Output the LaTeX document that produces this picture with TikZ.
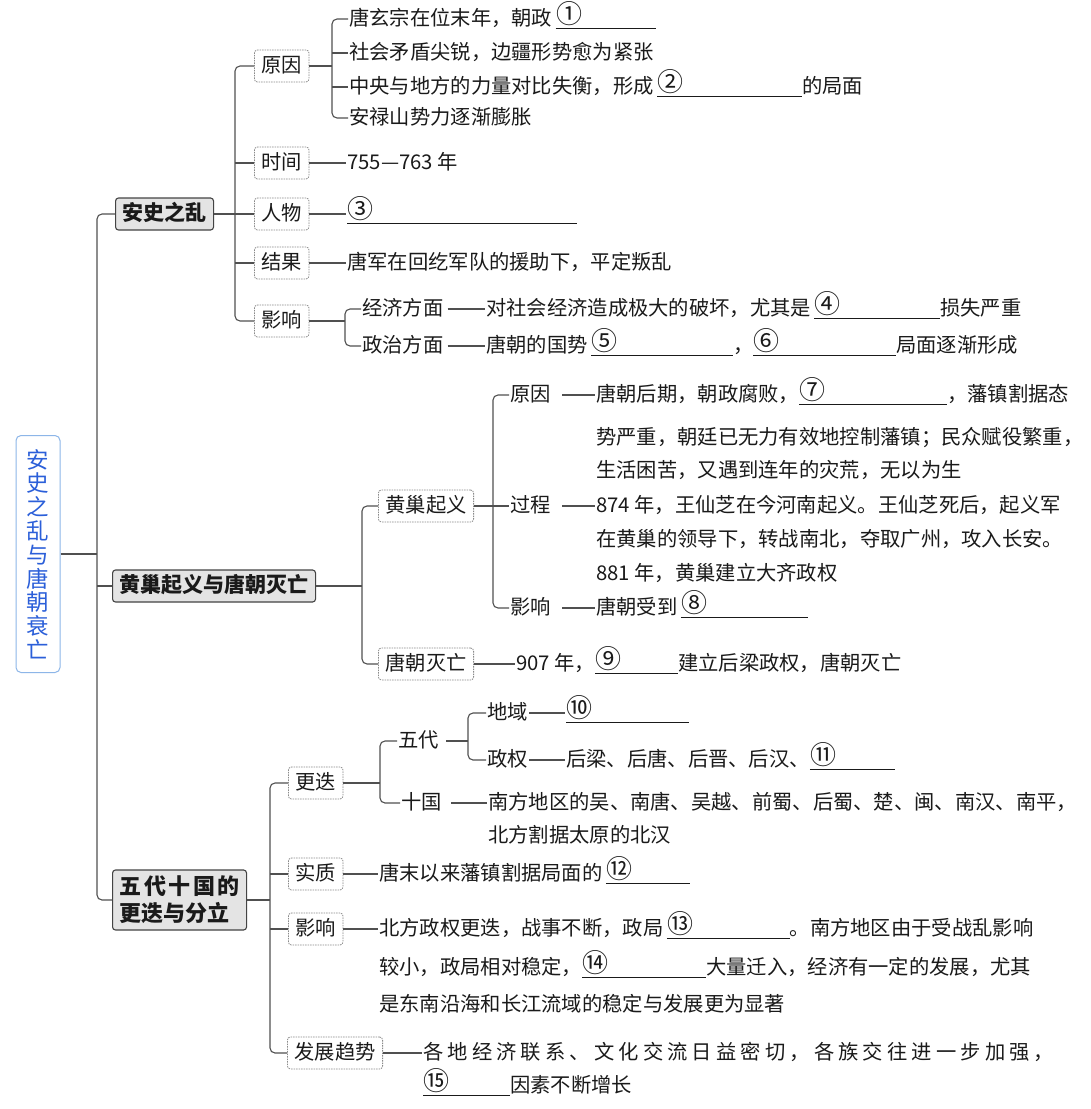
\documentclass[tikz,border=0pt]{standalone}
\usepackage{fontspec}
\setmainfont{Noto Sans CJK SC}
\usetikzlibrary{calc}

\definecolor{linec}{HTML}{505050}
\definecolor{rootblue}{HTML}{2B5FD9}
\definecolor{rootborder}{HTML}{8DB6E8}
\definecolor{lonefill}{HTML}{E4E4E4}
\definecolor{loneborder}{HTML}{444444}
\definecolor{ltwoborder}{HTML}{8A8A8A}
\definecolor{txtc}{HTML}{1A1A1A}

\newcommand\fs{\fontsize{20.3}{24}\selectfont}
\newcommand\blk[2]{\makebox[0pt][l]{\hspace{0.5pt}\raisebox{2pt}{\fontsize{26}{26}\selectfont #1}}\rule[-4pt]{#2}{0.9pt}}
\def\spreadA#1#2{#1\ifx\relax#2\else\hfill\expandafter\spreadA\expandafter#2\fi}
\newcommand\spreadto[2]{\hbox to #1{\spreadA#2\relax}}

\tikzset{
  rootbox/.style={draw=rootborder, line width=1pt, rounded corners=5pt, fill=white,
    text=rootblue, align=center, font=\fontsize{22.5}{23.8}\selectfont,
    minimum width=44pt, minimum height=237pt, inner sep=0pt},
  lone/.style={draw=loneborder, fill=lonefill, line width=1.1pt, rounded corners=3pt,
    font=\fontsize{21}{25}\selectfont\bfseries, inner xsep=7pt, inner ysep=5.5pt,
    text height=17pt, text depth=4pt, anchor=west, text=txtc},
  lonetwo/.style={draw=loneborder, fill=lonefill, line width=1.1pt, rounded corners=3pt,
    font=\fontsize{22}{27}\selectfont\bfseries, inner xsep=7pt, align=left,
    minimum height=60pt, anchor=west, text=txtc},
  ltwo/.style={draw=ltwoborder, dash pattern=on 1.5pt off 1pt, line width=0.8pt,
    rounded corners=3pt, fill=white, font=\fs, inner xsep=7pt, inner ysep=5.5pt,
    text height=17pt, text depth=4pt, anchor=west, text=txtc},
  txt/.style={anchor=west, inner xsep=1pt, inner ysep=0pt, font=\fs,
    text height=17pt, text depth=4.5pt, text=txtc},
  conn/.style={draw=linec, line width=1.1pt, rounded corners=5pt}
}

\begin{document}
\begin{tikzpicture}[x=1pt,y=-1pt]
\useasboundingbox (0,0) rectangle (1091,1109);
\fill[white] (0,0) rectangle (1091,1109);

% root
\node[rootbox] (root) at (38,554) {安\\史\\之\\乱\\与\\唐\\朝\\衰\\亡};
\coordinate (T0) at (97,0);

% level 1
\node[lone] (A) at (115,214) {安史之乱};
\node[lone] (B) at (112,586) {黄巢起义与唐朝灭亡};
\node[lonetwo] (C) at (112,900) {\spreadto{120pt}{五代十国的}\\更迭与分立};
\draw[conn] (A.west) -- (A.west -| T0) |- (C.west);
\draw[conn] (root.east) -- (root.east -| T0);
\draw[conn] (B.west) -- (B.west -| T0);

% ---- 安史之乱
\coordinate (T1) at (235,0);
\node[ltwo] (A1) at (254,66) {原因};
\node[ltwo] (A2) at (254,163) {时间};
\node[ltwo] (A3) at (254,214) {人物};
\node[ltwo] (A4) at (254,263) {结果};
\node[ltwo] (A5) at (254,321) {影响};
\draw[conn] (A1.west) -- (A1.west -| T1) |- (A5.west);
\draw[conn] (A2.west) -- (A2.west -| T1);
\draw[conn] (A3.west) -- (A3.west -| T1);
\draw[conn] (A4.west) -- (A4.west -| T1);
\draw[conn] (A.east) -- (A.east -| T1);

\coordinate (T2) at (332,0);
\node[txt] (A11) at (348,19) {唐玄宗在位末年，朝政\,\blk{①}{100pt}};
\node[txt] (A12) at (348,53) {社会矛盾尖锐，边疆形势愈为紧张};
\node[txt] (A13) at (348,87) {中央与地方的力量对比失衡，形成\,\blk{②}{145pt}的局面};
\node[txt] (A14) at (348,118) {安禄山势力逐渐膨胀};
\draw[conn] (A11.west) -- (A11.west -| T2) |- (A14.west);
\draw[conn] (A12.west) -- (A12.west -| T2);
\draw[conn] (A13.west) -- (A13.west -| T2);
\draw[conn] (A1.east) -- (A1.east -| T2);

\node[txt] (A21) at (346,163) {755—763 年};
\draw[conn] (A2.east) -- (A21.west);
\node[txt] (A31) at (346,214) {\blk{③}{230pt}};
\draw[conn] (A3.east) -- (A31.west);
\node[txt] (A41) at (346,263) {唐军在回纥军队的援助下，平定叛乱};
\draw[conn] (A4.east) -- (A41.west);

\coordinate (T3) at (345,0);
\node[txt] (A51) at (361,309) {经济方面};
\node[txt] (A52) at (361,346) {政治方面};
\draw[conn] (A51.west) -- (A51.west -| T3) |- (A52.west);
\draw[conn] (A5.east) -- (A5.east -| T3);
\node[txt] (A53) at (485,309) {对社会经济造成极大的破坏，尤其是\,\blk{④}{126pt}损失严重};
\node[txt] (A54) at (485,346) {唐朝的国势\,\blk{⑤}{142pt}，\blk{⑥}{143pt}局面逐渐形成};
\draw[conn,shorten <=3pt] (A51.east) -- (A53.west);
\draw[conn,shorten <=3pt] (A52.east) -- (A54.west);

% ---- 黄巢起义与唐朝灭亡
\coordinate (T4) at (362,0);
\node[ltwo] (B1) at (378,506) {黄巢起义};
\node[ltwo] (B2) at (378,664) {唐朝灭亡};
\draw[conn] (B1.west) -- (B1.west -| T4) |- (B2.west);
\draw[conn] (B.east) -- (B.east -| T4);

\coordinate (T5) at (493,0);
\node[txt] (B11) at (509,395) {原因};
\node[txt] (B12) at (509,506) {过程};
\node[txt] (B13) at (509,608) {影响};
\draw[conn] (B11.west) -- (B11.west -| T5) |- (B13.west);
\draw[conn] (B1.east) -- (B12.west);

\node[txt] (B111) at (595,395) {唐朝后期，朝政腐败，\blk{⑦}{148pt}，藩镇割据态};
\node[txt] (B112) at (595,438) {势严重，朝廷已无力有效地控制藩镇；民众赋役繁重，};
\node[txt] (B113) at (595,471) {生活困苦，又遇到连年的灾荒，无以为生};
\node[txt] (B121) at (595,506) {874 年，王仙芝在今河南起义。王仙芝死后，起义军};
\node[txt] (B122) at (595,540) {在黄巢的领导下，转战南北，夺取广州，攻入长安。};
\node[txt] (B123) at (595,574) {881 年，黄巢建立大齐政权};
\node[txt] (B131) at (595,608) {唐朝受到\,\blk{⑧}{127pt}};
\draw[conn,shorten <=10pt] (B11.east) -- (B111.west);
\draw[conn,shorten <=10pt] (B12.east) -- (B121.west);
\draw[conn,shorten <=10pt] (B13.east) -- (B131.west);

\node[txt] (B21) at (515,664) {907 年，\blk{⑨}{83pt}建立后梁政权，唐朝灭亡};
\draw[conn] (B2.east) -- (B21.west);

% ---- 五代十国的更迭与分立
\coordinate (T6) at (270,0);
\node[ltwo] (C1) at (288,783) {更迭};
\node[ltwo] (C2) at (288,874) {实质};
\node[ltwo] (C3) at (288,929) {影响};
\node[ltwo] (C4) at (287,1053) {发展趋势};
\draw[conn] (C1.west) -- (C1.west -| T6) |- (C4.west);
\draw[conn] (C2.west) -- (C2.west -| T6);
\draw[conn] (C3.west) -- (C3.west -| T6);
\draw[conn] (C.east) -- (C.east -| T6);

\coordinate (T7) at (380,0);
\node[txt] (C11) at (397,741) {五代};
\node[txt] (C12) at (400,803) {十国};
\draw[conn] (C11.west) -- (C11.west -| T7) |- (C12.west);
\draw[conn] (C1.east) -- (C1.east -| T7);

\coordinate (T8) at (468,0);
\node[txt] (C111) at (486,713) {地域};
\node[txt] (C112) at (486,760) {政权};
\draw[conn] (C111.west) -- (C111.west -| T8) |- (C112.west);
\draw[conn,shorten <=6pt] (C11.east) -- (C11.east -| T8);
\node[txt] (C1111) at (565,713) {\blk{⑩}{123pt}};
\draw[conn] (C111.east) -- (C1111.west);
\node[txt] (C1121) at (565,760) {后梁、后唐、后晋、后汉、\blk{⑪}{85pt}};
\draw[conn] (C112.east) -- (C1121.west);
\node[txt] (C121) at (487,803) {南方地区的吴、南唐、吴越、前蜀、后蜀、楚、闽、南汉、南平，};
\node[txt] (C122) at (487,836) {北方割据太原的北汉};
\draw[conn,shorten <=8pt] (C12.east) -- (C121.west);

\node[txt] (C21) at (378,874) {唐末以来藩镇割据局面的\,\blk{⑫}{84pt}};
\draw[conn] (C2.east) -- (C21.west);
\node[txt] (C31) at (378,929) {北方政权更迭，战事不断，政局\,\blk{⑬}{123pt}。南方地区由于受战乱影响};
\node[txt] (C32) at (378,968) {较小，政局相对稳定，\blk{⑭}{124pt}大量迁入，经济有一定的发展，尤其};
\node[txt] (C33) at (378,1005) {是东南沿海和长江流域的稳定与发展更为显著};
\draw[conn] (C3.east) -- (C31.west);
\node[txt] (C41) at (422,1053) {\spreadto{631pt}{各地经济联系、文化交流日益密切，各族交往进一步加强，}};
\node[txt] (C42) at (422,1086) {\blk{⑮}{87pt}因素不断增长};
\draw[conn] (C4.east) -- (C41.west);
\end{tikzpicture}
\end{document}
